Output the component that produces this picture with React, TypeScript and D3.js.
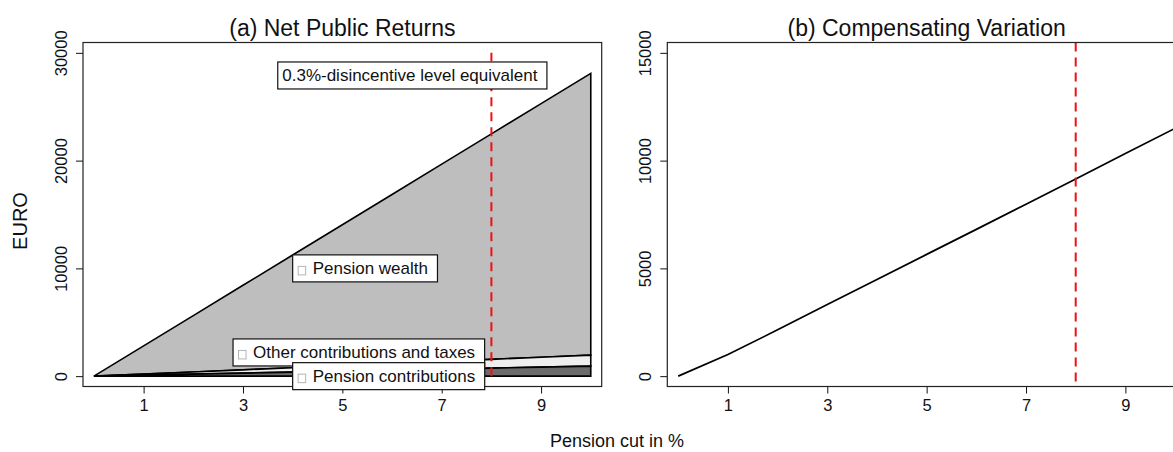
import React, { useEffect, useRef } from 'react';
import * as d3 from 'd3';

// pension cut in percent
const pensionCut = [0, 1, 2, 3, 4, 5, 6, 7, 8, 9, 10];
// stacked components of net public returns (EURO)
const pensionContributions = [0, 93, 186, 279, 372, 465, 558, 651, 744, 837, 930];
const otherContributions = [0, 102, 204, 306, 408, 510, 612, 714, 816, 918, 1020];
const pensionWealth = [0, 2615, 5230, 7845, 10460, 13075, 15690, 18305, 20920, 23535, 26150];
// compensating variation (EURO)
const compVariation = [0, 1000, 2150, 3320, 4480, 5650, 6810, 7980, 9150, 10330, 11500];

const xTicks = [1, 3, 5, 7, 9];
const yTicksA = [0, 10000, 20000, 30000];
const yTicksB = [0, 5000, 10000, 15000];
const disincentiveCut = 8;

const stackKeys = ['contrib', 'other', 'wealth'];
const stackFills = ['#6b6b6b', '#efefef', '#bebebe'];

// annotation boxes: [text, left x, centre y, with symbol]
const labelsA: [string, number, number, boolean][] = [
  ['0.3%-disincentive level equivalent', 3.7, 27900, false],
  ['Pension wealth', 4, 10000, true],
  ['Other contributions and taxes', 2.8, 2200, true],
  ['Pension contributions', 4, 0, true],
];

const FONT = '"Liberation Sans", Arial, Helvetica, sans-serif';

const App = () => {
  const svgRef = useRef<SVGSVGElement>(null);

  useEffect(() => {
    const svg = d3.select(svgRef.current);
    svg.selectAll('*').remove();

    const top = 42.5;
    const bottom = 386.5;

    const drawPanel = (left: number, right: number, yMax: number, yTicks: number[], title: string) => {
      const x = d3.scaleLinear().domain([-0.22, 10.22]).range([left, right]);
      const pad = yMax * 0.032;
      const y = d3.scaleLinear().domain([-pad, yMax + pad]).range([bottom, top]);
      const g = svg.append('g');

      // x axis
      const xa = g.append('g')
        .attr('transform', `translate(0,${bottom})`)
        .call(d3.axisBottom(x).tickValues(xTicks).tickSize(7).tickPadding(6).tickFormat(d3.format('d')));
      xa.select('.domain').remove();
      xa.selectAll('line').attr('stroke', '#111');
      xa.selectAll('text').style('font-family', FONT).style('font-size', '16.5px').attr('fill', '#111');

      // y axis
      const ya = g.append('g')
        .attr('transform', `translate(${left},0)`)
        .call(d3.axisLeft(y).tickValues(yTicks).tickSize(7).tickFormat(d3.format('d')));
      ya.select('.domain').remove();
      ya.selectAll('line').attr('stroke', '#111');
      ya.selectAll('text')
        .attr('x', null).attr('dy', null)
        .attr('transform', 'translate(-16,0) rotate(-90)')
        .attr('text-anchor', 'middle')
        .attr('fill', '#111')
        .style('font-family', FONT).style('font-size', '16.5px');

      svg.append('text')
        .attr('x', (left + right) / 2).attr('y', 36)
        .attr('text-anchor', 'middle')
        .style('font-family', FONT).style('font-size', '23px')
        .attr('fill', '#111')
        .text(title);

      return { x, y, g };
    };

    // ---- panel (a)
    const A = drawPanel(83, 601.7, 30000, yTicksA, '(a) Net Public Returns');
    const rows = pensionCut.map((p, i) => ({
      pct: p,
      contrib: pensionContributions[i],
      other: otherContributions[i],
      wealth: pensionWealth[i],
    }));
    const series = d3.stack<any>().keys(stackKeys)(rows);
    const area = d3.area<any>()
      .x(d => A.x(d.data.pct))
      .y0(d => A.y(d[0]))
      .y1(d => A.y(d[1]));
    A.g.selectAll('path.band')
      .data(series.slice().reverse())
      .enter()
      .append('path')
      .attr('class', 'band')
      .attr('d', d => area(d as any))
      .attr('fill', d => stackFills[d.index])
      .attr('stroke', '#000')
      .attr('stroke-width', 1.6)
      .attr('stroke-linejoin', 'miter');

    A.g.append('line')
      .attr('x1', A.x(disincentiveCut)).attr('x2', A.x(disincentiveCut))
      .attr('y1', A.y(0)).attr('y2', A.y(30000))
      .attr('stroke', '#f01010').attr('stroke-width', 2).attr('stroke-dasharray', '9,6');

    // frame
    A.g.append('rect')
      .attr('x', 83).attr('y', top).attr('width', 601.7 - 83).attr('height', bottom - top)
      .attr('fill', 'none').attr('stroke', '#222').attr('stroke-width', 1.2);

    // label boxes
    labelsA.forEach(([txt, lx, cy, sym]) => {
      const bx = A.x(lx);
      const by = A.y(cy);
      const lg = svg.append('g');
      const rect = lg.append('rect')
        .attr('y', by - 13.5).attr('height', 27)
        .attr('x', bx).attr('fill', '#fff').attr('stroke', '#111').attr('stroke-width', 1.2);
      const tx = bx + (sym ? 20 : 4.5);
      if (sym) {
        lg.append('rect')
          .attr('x', bx + 5.5).attr('y', by - 2).attr('width', 7.5).attr('height', 8.5)
          .attr('fill', '#fff').attr('stroke', '#b5b5b5').attr('stroke-width', 1);
      }
      const t = lg.append('text')
        .attr('x', tx).attr('y', by + 6)
        .style('font-family', FONT).style('font-size', '17px')
        .attr('fill', '#111')
        .text(txt);
      const w = (t.node() as SVGTextElement).getComputedTextLength();
      rect.attr('width', tx + w + 9.5 - bx);
    });

    // ---- panel (b)
    const B = drawPanel(667.3, 1186, 15000, yTicksB, '(b) Compensating Variation');
    const line = d3.line<number>()
      .x((_, i) => B.x(pensionCut[i]))
      .y(d => B.y(d));
    B.g.append('path')
      .attr('d', line(compVariation))
      .attr('fill', 'none')
      .attr('stroke', '#000')
      .attr('stroke-width', 1.7);
    B.g.append('line')
      .attr('x1', B.x(disincentiveCut)).attr('x2', B.x(disincentiveCut))
      .attr('y1', top).attr('y2', bottom)
      .attr('stroke', '#f01010').attr('stroke-width', 2).attr('stroke-dasharray', '9,6');
    B.g.append('rect')
      .attr('x', 667.3).attr('y', top).attr('width', 1186 - 667.3).attr('height', bottom - top)
      .attr('fill', 'none').attr('stroke', '#222').attr('stroke-width', 1.2);

    // shared axis titles
    svg.append('text')
      .attr('x', 617).attr('y', 447)
      .attr('text-anchor', 'middle')
      .style('font-family', FONT).style('font-size', '18px')
      .attr('fill', '#111')
      .text('Pension cut in %');
    svg.append('text')
      .attr('transform', 'translate(27,221) rotate(-90)')
      .attr('text-anchor', 'middle')
      .style('font-family', FONT).style('font-size', '20px')
      .attr('fill', '#111')
      .text('EURO');
  }, []);

  return (
    <svg
      ref={svgRef}
      width={1173}
      height={452}
      style={{ position: 'absolute', left: 0, top: 0, background: '#fff' }}
    />
  );
};

export default App;
